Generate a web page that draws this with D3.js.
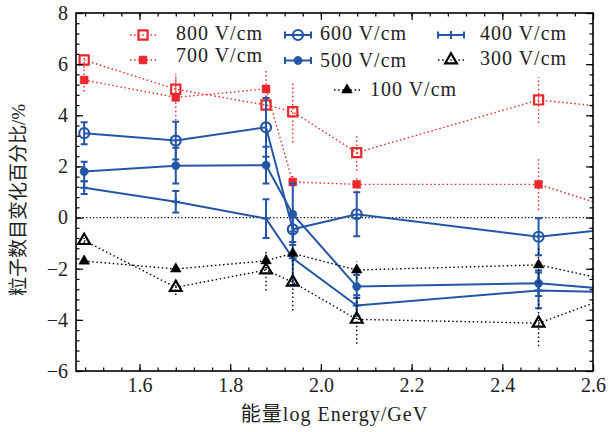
<!DOCTYPE html>
<html>
<head>
<meta charset="utf-8">
<script src="https://cdn.jsdelivr.net/npm/d3@7"></script>
<style>
  html, body { margin: 0; padding: 0; background: #fff; }
  svg { display: block; }
</style>
</head>
<body>
<div id="chart"></div>
<script>
const WIDTH = 612
const HEIGHT = 432

// Data: log energy, and percent change per field strength (value, error)
const energies = [1.478, 1.68, 1.879, 1.938, 2.079, 2.48, 2.78]

const v800 = [6.16, 5.02, 4.40, 4.14, 2.54, 4.60, 4.05]
const e800 = [0.3, 0.5, 0.5, 1.2, 0.7, 0.9, 0.9]
const v700 = [5.38, 4.70, 5.03, 1.39, 1.30, 1.30, -0.40]
const e700 = [0.45, 0.9, 0.8, 0.3, 0.3, 1.0, 1.0]
const v600 = [3.30, 3.01, 3.53, -0.46, 0.13, -0.75, -0.18]
const e600 = [0.43, 0.74, 1.15, 0.5, 0.86, 0.72, 0.7]
const v500 = [1.80, 2.03, 2.05, 0.13, -2.70, -2.57, -3.0]
const e500 = [0.38, 0.7, 0.72, 1.2, 0.45, 0.5, 0.5]
const v400 = [1.17, 0.62, -0.04, -1.59, -3.44, -2.85, -2.98]
const e400 = [0.25, 0.42, 0.76, 1.05, 0.4, 0.7, 0.7]
const v300 = [-0.90, -2.73, -2.05, -2.53, -3.98, -4.13, -2.18]
const e300 = [0.1, 0.3, 0.8, 1.1, 0.95, 0.9, 0.9]
const v100 = [-1.70, -2.01, -1.69, -1.40, -2.05, -1.85, -3.0]
const e100 = [0.1, 0.1, 0.3, 0.2, 0.33, 0.7, 0.7]

const seriesNames = ["800 V/cm", "700 V/cm", "600 V/cm", "500 V/cm", "400 V/cm", "300 V/cm", "100 V/cm"]

const xTicks = [1.6, 1.8, 2.0, 2.2, 2.4, 2.6]
const yTicks = [-6, -4, -2, 0, 2, 4, 6, 8]

const xLabel = "能量log Energy/GeV"
const yLabel = "粒子数目变化百分比/%"

// Styles
const RED = "#e8282c"
const BLUE = "#2456a6"
const BLACK = "#000"
const FONT = "'Liberation Serif', 'Noto Sans CJK SC', serif"

const styles = [
  { color: RED, dash: "1.5,2.6", width: 1.4, marker: "square", open: true, caps: false },
  { color: RED, dash: "1.5,2.6", width: 1.4, marker: "square", open: false, caps: false },
  { color: BLUE, dash: null, width: 2, marker: "circle", open: true, caps: true },
  { color: BLUE, dash: null, width: 2, marker: "circle", open: false, caps: true },
  { color: BLUE, dash: null, width: 2, marker: "plus", open: false, caps: true },
  { color: BLACK, dash: "1.5,2.6", width: 1.4, marker: "triangle", open: true, caps: false },
  { color: BLACK, dash: "1.5,2.6", width: 1.4, marker: "triangle", open: false, caps: false },
]

const values = [v800, v700, v600, v500, v400, v300, v100]
const errors = [e800, e700, e600, e500, e400, e300, e100]

const series = seriesNames.map((name, k) => ({
  name,
  style: styles[k],
  points: energies.map((x, i) => ({ x, y: values[k][i], e: errors[k][i] }))
}))

// Legend placement
const legend = [
  { k: 0, mx: 143, my: 35, tx: 176, ty: 39.5 },
  { k: 1, mx: 143, my: 60, tx: 176, ty: 61.5 },
  { k: 2, mx: 298, my: 35, tx: 320, ty: 40 },
  { k: 3, mx: 298, my: 60.5, tx: 320, ty: 67 },
  { k: 4, mx: 451, my: 35, tx: 480, ty: 39.5 },
  { k: 5, mx: 451, my: 60, tx: 480, ty: 65 },
  { k: 6, mx: 347, my: 90, tx: 370, ty: 96 },
]

const margin = { top: 13, right: 19, bottom: 61, left: 76 }
const x = d3.scaleLinear([1.46, 2.6], [margin.left, WIDTH - margin.right])
const y = d3.scaleLinear([-6, 8], [HEIGHT - margin.bottom, margin.top])

const svg = d3.select("#chart").append("svg")
  .attr("width", WIDTH)
  .attr("height", HEIGHT)
  .attr("viewBox", [0, 0, WIDTH, HEIGHT])
  .style("font-family", FONT)

svg.append("defs").append("clipPath")
  .attr("id", "plot-clip")
  .append("rect")
    .attr("x", margin.left)
    .attr("y", margin.top)
    .attr("width", WIDTH - margin.left - margin.right)
    .attr("height", HEIGHT - margin.top - margin.bottom)

const markerPath = (style) => {
  const type = { square: d3.symbolSquare, circle: d3.symbolCircle, plus: d3.symbolPlus, triangle: d3.symbolTriangle }[style.marker]
  const size = { square: style.open ? 84 : 62, circle: style.open ? 78 : 54, plus: 70, triangle: style.open ? 60 : 50 }[style.marker]
  return d3.symbol(type, size)()
}

const drawMarker = (g, style) => {
  if (style.marker === "plus") {
    g.append("path")
      .attr("d", "M-4,0H4M0,-4V4")
      .attr("stroke", style.color)
      .attr("stroke-width", 2)
      .attr("fill", "none")
    return
  }
  g.append("path")
    .attr("d", markerPath(style))
    .attr("fill", style.open ? "none" : style.color)
    .attr("stroke", style.color)
    .attr("stroke-width", style.open ? 2.2 : 0.5)
}

// Zero reference line
const plot = svg.append("g").attr("clip-path", "url(#plot-clip)")

plot.append("line")
  .attr("x1", margin.left)
  .attr("x2", WIDTH - margin.right)
  .attr("y1", y(0))
  .attr("y2", y(0))
  .attr("stroke", BLACK)
  .attr("stroke-width", 1.2)
  .attr("stroke-dasharray", "1.2,2.2")

const line = d3.line().x(d => x(d.x)).y(d => y(d.y))

series.forEach(s => {
  const g = plot.append("g")
  const st = s.style

  // error bars
  const eb = g.append("g")
    .attr("stroke", st.color)
    .attr("stroke-width", st.caps ? 2 : st.width)
    .attr("stroke-dasharray", st.dash)
    .attr("fill", "none")
  eb.selectAll("line.bar")
    .data(s.points)
    .join("line")
      .attr("class", "bar")
      .attr("x1", d => x(d.x))
      .attr("x2", d => x(d.x))
      .attr("y1", d => y(d.y - d.e))
      .attr("y2", d => y(d.y + d.e))
  if (st.caps) {
    eb.selectAll("path.cap")
      .data(s.points)
      .join("path")
        .attr("class", "cap")
        .attr("d", d => `M${x(d.x) - 3.5},${y(d.y - d.e)}h7M${x(d.x) - 3.5},${y(d.y + d.e)}h7`)
  }

  // connecting line
  g.append("path")
    .datum(s.points)
    .attr("d", line)
    .attr("fill", "none")
    .attr("stroke", st.color)
    .attr("stroke-width", st.width)
    .attr("stroke-dasharray", st.dash)

  // markers
  g.selectAll("g.mk")
    .data(s.points)
    .join("g")
      .attr("class", "mk")
      .attr("transform", d => `translate(${x(d.x)},${y(d.y)})`)
      .each(function () { drawMarker(d3.select(this), st) })
})

// Axes, ticks pointing inward on all four sides
const xMinor = d3.range(1.48, 2.6001, 0.04)
const yMinor = d3.range(-6, 8.001, 0.4)
const fmtY = d3.format("d")
const fmtX = d3.format(".1f")

const axisStyle = g => {
  g.select(".domain").remove()
  g.selectAll("line").attr("stroke", BLACK).attr("stroke-width", 1.2)
  g.selectAll("text").attr("font-size", 20).attr("fill", "#222").attr("font-family", FONT)
}

const bottom = HEIGHT - margin.bottom
const right = WIDTH - margin.right

svg.append("g").attr("transform", `translate(0,${bottom})`)
  .call(d3.axisBottom(x).tickValues(xMinor).tickSize(-3.5).tickFormat(""))
  .call(axisStyle)
svg.append("g").attr("transform", `translate(0,${bottom})`)
  .call(d3.axisBottom(x).tickValues(xTicks).tickSize(-7).tickPadding(7).tickFormat(fmtX))
  .call(axisStyle)
svg.append("g").attr("transform", `translate(0,${margin.top})`)
  .call(d3.axisTop(x).tickValues(xMinor).tickSize(-3.5).tickFormat(""))
  .call(axisStyle)
svg.append("g").attr("transform", `translate(0,${margin.top})`)
  .call(d3.axisTop(x).tickValues(xTicks).tickSize(-7).tickFormat(""))
  .call(axisStyle)

svg.append("g").attr("transform", `translate(${margin.left},0)`)
  .call(d3.axisLeft(y).tickValues(yMinor).tickSize(-3.5).tickFormat(""))
  .call(axisStyle)
svg.append("g").attr("transform", `translate(${margin.left},0)`)
  .call(d3.axisLeft(y).tickValues(yTicks).tickSize(-7).tickPadding(8).tickFormat(fmtY))
  .call(axisStyle)
svg.append("g").attr("transform", `translate(${right},0)`)
  .call(d3.axisRight(y).tickValues(yMinor).tickSize(-3.5).tickFormat(""))
  .call(axisStyle)
svg.append("g").attr("transform", `translate(${right},0)`)
  .call(d3.axisRight(y).tickValues(yTicks).tickSize(-7).tickFormat(""))
  .call(axisStyle)

// Frame
svg.append("rect")
  .attr("x", margin.left)
  .attr("y", margin.top)
  .attr("width", right - margin.left)
  .attr("height", bottom - margin.top)
  .attr("fill", "none")
  .attr("stroke", BLACK)
  .attr("stroke-width", 1.6)

// Axis titles
svg.append("text")
  .attr("x", (margin.left + right) / 2)
  .attr("y", 421)
  .attr("text-anchor", "middle")
  .attr("font-size", 20)
  .attr("letter-spacing", 1)
  .attr("fill", "#222")
  .text(xLabel)

svg.append("text")
  .attr("transform", `translate(25,${(margin.top + bottom) / 2 + 8}) rotate(-90)`)
  .attr("text-anchor", "middle")
  .attr("font-size", 19)
  .attr("fill", "#222")
  .text(yLabel)

// Legend
const lg = svg.append("g")
legend.forEach(item => {
  const st = series[item.k].style
  const g = lg.append("g").attr("transform", `translate(${item.mx},${item.my})`)
  g.append("line")
    .attr("x1", -13).attr("x2", 13)
    .attr("stroke", st.color)
    .attr("stroke-width", st.caps ? 2 : st.width)
    .attr("stroke-dasharray", st.dash)
  if (st.caps) {
    g.append("path")
      .attr("d", "M-13,-3.5v7M13,-3.5v7")
      .attr("stroke", st.color)
      .attr("stroke-width", 2)
  }
  drawMarker(g, st)
  lg.append("text")
    .attr("x", item.tx)
    .attr("y", item.ty)
    .attr("font-size", 20)
    .attr("letter-spacing", 1)
    .attr("fill", "#222")
    .text(series[item.k].name)
})
</script>
</body>
</html>
